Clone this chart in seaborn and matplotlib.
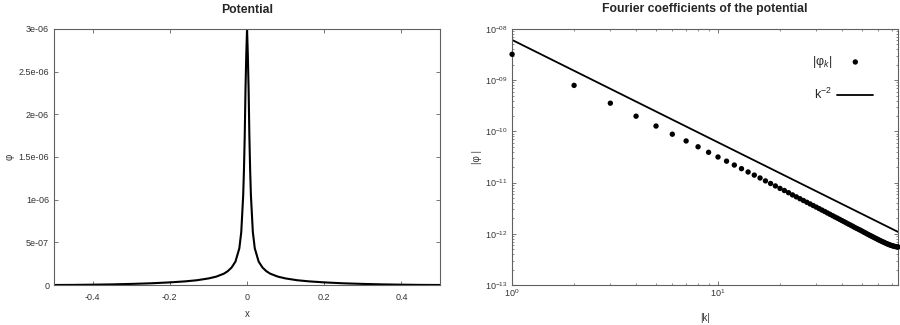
import matplotlib
matplotlib.use("Agg")
import matplotlib.pyplot as plt
import seaborn as sns
import numpy as np
import pandas as pd
from matplotlib.ticker import FixedLocator, FuncFormatter, LogLocator, NullFormatter

# potential phi(x) (symmetric around 0)
x_half = [0.0, 0.002, 0.004, 0.006, 0.008, 0.010, 0.015, 0.020, 0.030, 0.040,
          0.050, 0.060, 0.080, 0.100, 0.130, 0.160, 0.200, 0.250, 0.300,
          0.350, 0.400, 0.450, 0.500]
phi_half = [3.00e-6, 2.7e-6, 2.3e-6, 1.75e-6, 1.35e-6, 1.05e-6, 6.2e-7,
            4.3e-7, 2.75e-7, 2.05e-7, 1.62e-7, 1.33e-7, 9.8e-8, 7.7e-8, 5.6e-8,
            4.3e-8, 3.1e-8, 2.0e-8, 1.3e-8, 7.5e-9, 4.0e-9, 1.5e-9, 0.5e-9]

# Fourier coefficients |phi_k|, k = 1..75, in units of 1e-12
k_vals = list(range(1, 76))
phik_pico = [3200, 790, 355, 198, 127, 88, 65, 50, 39, 31.6,
             26.2, 22.0, 18.7, 16.1, 14.0, 12.3, 10.8, 9.6, 8.6, 7.7,
             7.0, 6.35, 5.75, 5.27, 4.84, 4.46, 4.13, 3.83, 3.56, 3.32,
             3.10, 2.90, 2.72, 2.55, 2.40, 2.26, 2.13, 2.02, 1.91, 1.81,
             1.72, 1.63, 1.55, 1.48, 1.41, 1.34, 1.28, 1.23, 1.18, 1.13,
             1.08, 1.04, 0.995, 0.957, 0.921, 0.887, 0.855, 0.825, 0.797, 0.77,
             0.745, 0.722, 0.70, 0.68, 0.66, 0.642, 0.626, 0.611, 0.598, 0.587,
             0.577, 0.568, 0.561, 0.556, 0.553]

# k^-2 reference line, endpoints
k_line = [1, 75]
line_vals = [6.1e-9, 1.085e-12]

left_xticks = [-0.4, -0.2, 0, 0.2, 0.4]
left_xlabels = ["-0.4", "-0.2", "0", "0.2", "0.4"]
left_yticks = [0, 5e-7, 1e-6, 1.5e-6, 2e-6, 2.5e-6, 3e-6]
left_ylabels = ["0", "5e-07", "1e-06", "1.5e-06", "2e-06", "2.5e-06", "3e-06"]

sns.set_style("ticks")
plt.rcParams["font.family"] = ["Liberation Sans", "DejaVu Sans"]
plt.rcParams["mathtext.fontset"] = "custom"
plt.rcParams["mathtext.rm"] = "Liberation Sans"
plt.rcParams["mathtext.it"] = "Liberation Sans:italic"
plt.rcParams["axes.edgecolor"] = "#606060"
plt.rcParams["axes.linewidth"] = 0.8
for ax_name in ["xtick", "ytick"]:
    plt.rcParams[f"{ax_name}.direction"] = "in"
    plt.rcParams[f"{ax_name}.color"] = "#606060"
    plt.rcParams[f"{ax_name}.labelcolor"] = "#333333"
    plt.rcParams[f"{ax_name}.labelsize"] = 6.5
    plt.rcParams[f"{ax_name}.major.size"] = 3
    plt.rcParams[f"{ax_name}.minor.size"] = 1.6
    plt.rcParams[f"{ax_name}.major.width"] = 0.6
    plt.rcParams[f"{ax_name}.minor.width"] = 0.5

fig = plt.figure(figsize=(9, 3.25), dpi=100)
ax1 = fig.add_axes([0.06, 0.123, 0.429, 0.788])
ax2 = fig.add_axes([0.569, 0.123, 0.429, 0.788])

# left: potential
x_full = [-v for v in x_half[::-1]] + x_half[1:]
phi_full = phi_half[::-1] + phi_half[1:]
pot = pd.DataFrame({"x": x_full, "phi": phi_full})
sns.lineplot(data=pot, x="x", y="phi", ax=ax1, color="black", linewidth=1.5,
             sort=False)
ax1.set_xlim(-0.5, 0.5)
ax1.set_ylim(0, 3e-6)
ax1.xaxis.set_major_locator(FixedLocator(left_xticks))
ax1.set_xticklabels(left_xlabels)
ax1.yaxis.set_major_locator(FixedLocator(left_yticks))
ax1.set_yticklabels(left_ylabels)
ax1.tick_params(top=True, right=True)
ax1.tick_params(axis="x", pad=5.5)
ax1.set_xlabel("x", fontsize=7, color="#333333", labelpad=5)
ax1.set_ylabel("φ", fontsize=7, color="#333333", labelpad=3)
ax1.set_title("Potential", fontsize=8.8, fontweight="bold", pad=11.5)

# right: Fourier coefficients
coef = pd.DataFrame({"k": k_vals, "phik": [v * 1e-12 for v in phik_pico]})
ref = pd.DataFrame({"k": k_line, "val": line_vals})
sns.scatterplot(data=coef, x="k", y="phik", ax=ax2, color="black", s=15,
                edgecolor="none", label="|φ$_k$|", clip_on=False, zorder=3)
sns.lineplot(data=ref, x="k", y="val", ax=ax2, color="black", linewidth=1.3,
             label="k$^{-2}$")
ax2.set_xscale("log")
ax2.set_yscale("log")
ax2.set_xlim(1, 75)
ax2.set_ylim(1e-13, 1e-8)
ax2.yaxis.set_major_locator(LogLocator(base=10, numticks=10))
ax2.yaxis.set_minor_locator(LogLocator(base=10, subs=np.arange(2, 10), numticks=10))
ax2.yaxis.set_minor_formatter(NullFormatter())
ax2.xaxis.set_minor_formatter(NullFormatter())
ax2.yaxis.set_major_formatter(FuncFormatter(
    lambda v, p: "10$^{-%02d}$" % round(-np.log10(v))))
ax2.xaxis.set_major_formatter(FuncFormatter(
    lambda v, p: "10$^{%d}$" % round(np.log10(v))))
ax2.tick_params(which="both", top=True, right=True)
ax2.tick_params(axis="x", pad=1.5)
ax2.set_xlabel("|k|", fontsize=7, color="#333333", labelpad=10)
ax2.set_ylabel("|φ |", fontsize=7, color="#333333", labelpad=2)
ax2.set_title("Fourier coefficients of the potential", fontsize=8.8,
              fontweight="bold", pad=12)
ax2.legend(loc="upper right", bbox_to_anchor=(0.965, 0.945), frameon=False,
           markerfirst=False, fontsize=9, handlelength=2.9, handletextpad=0.4,
           labelspacing=1.35, markerscale=1.0)

# no offset texts on either axis
for ax in (ax1, ax2):
    ax.xaxis.offsetText.set_visible(False)
    ax.yaxis.offsetText.set_visible(False)

fig.savefig("out.png", dpi=100)
